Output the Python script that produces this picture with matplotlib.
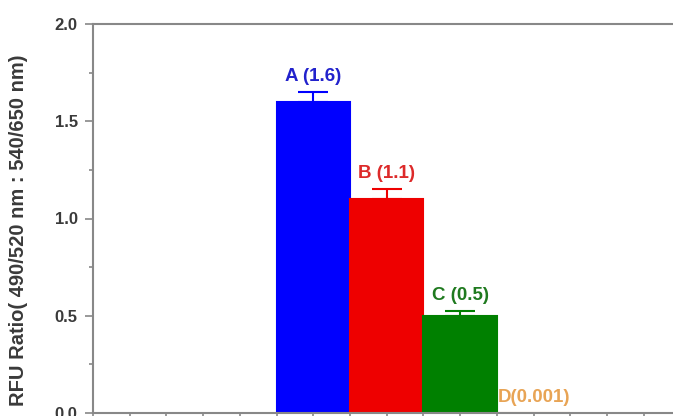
import matplotlib.pyplot as plt
from matplotlib.ticker import MultipleLocator

plt.rcParams['font.family'] = ['Liberation Sans', 'DejaVu Sans']

labels = ['A (1.6)', 'B (1.1)', 'C (0.5)', 'D(0.001)']
positions = [3, 4, 5, 6]
values = [1.6, 1.1, 0.5, 0.001]
errors = [0.05, 0.05, 0.025, 0.0]
colors = ['#0000FF', '#EE0000', '#008000', '#E08A30']
text_colors = ['#2222cc', '#dd2a2a', '#1f7a1f', '#E8A455']

fig = plt.figure(figsize=(6.73, 4.16), dpi=100)
ax = fig.add_axes([93 / 673, 3 / 416, (673 - 93) / 673, (413 - 24) / 416])

for x, v, e, c, tc, lab in zip(positions, values, errors, colors, text_colors, labels):
    ax.bar(x, v, width=1.0, color=c, edgecolor=c, linewidth=1.5)
    if e > 0:
        ax.errorbar(x, v, yerr=[[0], [e]], fmt='none', ecolor=c,
                    elinewidth=1.5, capsize=11, capthick=1.5)
    ax.annotate(lab, (x, v + e), xytext=(0, 5), textcoords='offset points',
                ha='center', va='bottom', color=tc, fontsize=13.5,
                fontweight='bold')

ax.set_xlim(0, 7.9)
ax.set_ylim(0, 2.0)
ax.xaxis.set_major_locator(MultipleLocator(0.5))
ax.yaxis.set_minor_locator(MultipleLocator(0.25))
ax.set_yticks([0, 0.5, 1.0, 1.5, 2.0])
ax.set_yticklabels(['0.0', '0.5', '1.0', '1.5', '2.0'])
ax.set_xticklabels([])

for s in ['left', 'top', 'bottom']:
    ax.spines[s].set_color('#888888')
    ax.spines[s].set_linewidth(1.5)
ax.spines['right'].set_visible(False)

ax.tick_params(axis='both', which='major', direction='out', length=6,
               width=1.2, color='#888888', labelsize=12, labelcolor='#3a3a3a',
               pad=5)
ax.tick_params(axis='y', which='minor', direction='out', length=3,
               width=1.2, color='#888888')
for t in ax.get_yticklabels():
    t.set_fontweight('bold')

ax.set_ylabel('RFU Ratio( 490/520 nm : 540/650 nm)', fontsize=14.5,
              fontweight='bold', color='#3a3a3a')
ax.yaxis.set_label_coords(-0.112, 0.47)

fig.savefig('out.png', dpi=100)
